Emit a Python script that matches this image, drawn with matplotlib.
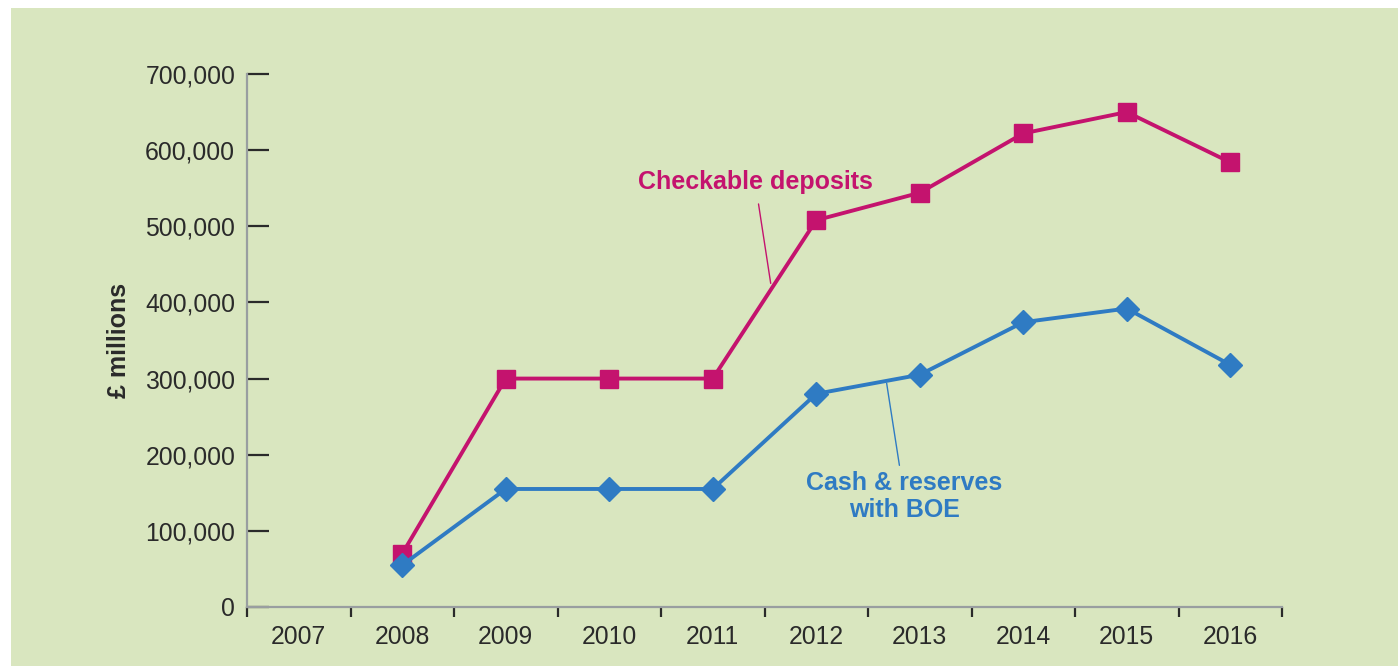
import numpy as np
import matplotlib.pyplot as plt
from matplotlib.patches import Rectangle
from matplotlib.ticker import FuncFormatter

plt.rcParams['font.family'] = ['Liberation Sans', 'DejaVu Sans']

years = ['2007', '2008', '2009', '2010', '2011', '2012', '2013', '2014', '2015', '2016']
# 2007 has no figures
checkable = [np.nan, 70000, 300000, 300000, 300000, 508000, 544000, 622000, 650000, 584000]
cash_boe = [np.nan, 55000, 155000, 155000, 155000, 280000, 305000, 374000, 392000, 318000]

pink = '#c4136e'
blue = '#2f7bc3'
bg = '#d9e6bf'

fig = plt.figure(figsize=(13.98, 6.66), dpi=100)
fig.patches.append(Rectangle((11/1398, 0), 1, 658/666, transform=fig.transFigure,
                             facecolor=bg, edgecolor='none', zorder=-10))
ax = fig.add_axes([247/1398, 1-607/666, 1035/1398, 533/666])
ax.set_facecolor('none')

x = np.arange(len(years))
ax.plot(x, checkable, color=pink, lw=2.8, marker='s', ms=13, zorder=3)
ax.plot(x, cash_boe, color=blue, lw=2.8, marker='D', ms=12.5, zorder=4)

ax.set_xlim(-0.5, len(years) - 0.5)
ax.set_ylim(0, 700000)
ax.set_yticks(np.arange(0, 700001, 100000))
ax.yaxis.set_major_formatter(FuncFormatter(lambda v, p: f'{int(v):,}'))

# ticks sit on category boundaries, labels in the middle
ax.set_xticks(np.arange(-0.5, len(years), 1.0))
ax.set_xticklabels([])
ax.set_xticks(x, minor=True)
ax.set_xticklabels(years, minor=True)
ax.tick_params(axis='x', which='major', direction='out', length=7, width=1.6, color='#2a2a2a')
ax.tick_params(axis='x', which='minor', length=0, pad=13, labelsize=17.8, labelcolor='#2a2a2a')
ax.tick_params(axis='y', direction='in', length=16, width=1.6, color='#2a2a2a',
               pad=8.5, labelsize=17.8, labelcolor='#2a2a2a')

for s in ['top', 'right']:
    ax.spines[s].set_visible(False)
for s in ['left', 'bottom']:
    ax.spines[s].set_color('#999ea0')
    ax.spines[s].set_linewidth(1.6)

ax.set_ylabel('£ millions', fontsize=18, fontweight='bold', color='#2a2a2a', labelpad=10)

# series labels with leader lines
ax.annotate('Checkable deposits', xy=(4.56, 425000), xytext=(4.41, 542000),
            ha='center', va='bottom', fontsize=18, fontweight='bold', color=pink,
            arrowprops=dict(arrowstyle='-', color=pink, lw=1.0, shrinkA=5, shrinkB=0))
ax.annotate('Cash & reserves\nwith BOE', xy=(5.68, 294000), xytext=(5.85, 112000),
            ha='center', va='bottom', fontsize=18, fontweight='bold', color=blue,
            linespacing=1.15,
            arrowprops=dict(arrowstyle='-', color=blue, lw=1.0, shrinkA=2, shrinkB=0))

fig.savefig('out.png', dpi=100)
